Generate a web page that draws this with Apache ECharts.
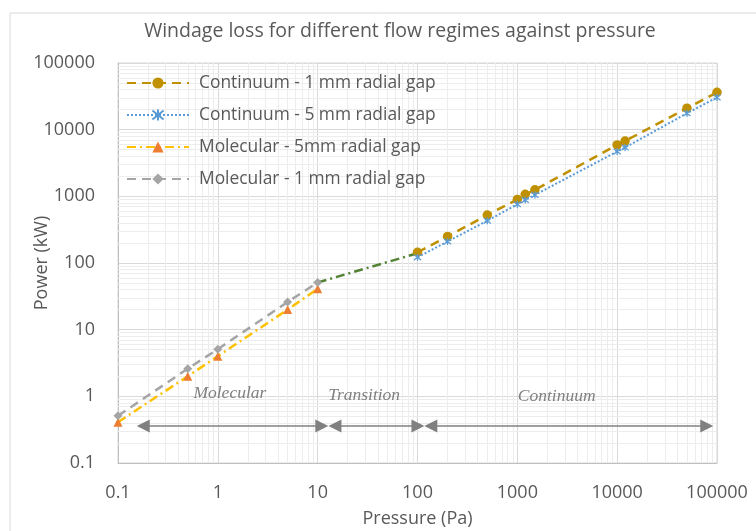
<!DOCTYPE html>
<html><head><meta charset="utf-8">
<script src="https://cdn.jsdelivr.net/npm/echarts@6/dist/echarts.min.js"></script>
<style>html,body{margin:0;padding:0;background:#fff}#c{width:756px;height:531px}</style>
</head><body><div id="c"></div>
<script>
// ---- data ----
const seriesNames = ['Continuum - 1 mm radial gap', 'Continuum - 5 mm radial gap', 'Molecular - 5mm radial gap', 'Molecular - 1 mm radial gap'];
const pressureContinuum = [100, 200, 500, 1000, 1200, 1500, 10000, 12000, 50000, 100000];
const continuum1mm = [145, 250, 525, 900, 1070, 1250, 5900, 6750, 21000, 36300];
const continuum5mm = [122, 210, 430, 760, 880, 1050, 4700, 5400, 17600, 30500];
const pressureMolecular = [0.1, 0.5, 1, 5, 10];
const molecular5mm = [0.41, 2.0, 4.0, 20, 41];
const molecular1mm = [0.51, 2.6, 5.1, 26, 51];
const pressureTransition = [10, 100];
const transitionPower = [51, 140];
const xTickLabels = ['0.1', '1', '10', '100', '1000', '10000', '100000'];
const yTickLabels = ['0.1', '1', '10', '100', '1000', '10000', '100000'];
// regime annotations (data coordinates)
const regimeNames = ['Molecular', 'Transition', 'Continuum'];
const regimeLabelAt = [[1.32, 1.12], [29.2, 1.05], [2480, 0.99]];
const regimeArrows = [[0.179, 11.0], [14.9, 101], [136, 78900]];
const arrowLevel = 0.36;

const pair = (xs, ys) => xs.map((x, i) => [x, ys[i]]);
const tickText = (arr) => (v) => arr[Math.round(Math.log10(v)) + 1] ?? String(v);

// minor gridline positions (2..9 per decade)
const minorVals = [];
for (let d = -1; d <= 4; d++) for (let m = 2; m <= 9; m++) minorVals.push(+(m * Math.pow(10, d)).toPrecision(3));

const FONT = 'Open Sans';
const chart = echarts.init(document.getElementById('c'), null, {renderer: 'canvas'});
chart.setOption({
  animation: false,
  backgroundColor: '#fff',
  textStyle: {fontFamily: FONT},
  graphic: [{type: 'rect', shape: {x: 10, y: 13, width: 800, height: 600}, style: {fill: 'none', stroke: '#d9d9d9', lineWidth: 1}, z: -10, silent: true}],
  title: {
    text: 'Windage loss for different flow regimes against pressure',
    left: 400, top: 21, textAlign: 'center', padding: 0,
    textStyle: {fontFamily: FONT, fontSize: 19.5, fontWeight: 'normal', color: '#595959'}
  },
  grid: {left: 118, right: 39, top: 63, bottom: 68, show: true, borderColor: '#d9d9d9', borderWidth: 1, outerBoundsMode: 'none', containLabel: false},
  legend: {
    data: seriesNames, orient: 'vertical', left: 126, top: 73, padding: 0,
    itemWidth: 62, itemHeight: 14, itemGap: 12,
    textStyle: {fontFamily: FONT, fontSize: 17.4, color: '#595959', lineHeight: 20, padding: [0, 0, 0, 5]}
  },
  xAxis: {
    type: 'log', logBase: 10, min: 0.1, max: 100000, splitNumber: 6,
    name: 'Pressure (Pa)', nameLocation: 'middle', nameGap: 47, nameMoveOverlap: false,
    nameTextStyle: {fontFamily: FONT, fontSize: 18, color: '#595959'},
    axisLine: {show: true, lineStyle: {color: '#bfbfbf'}},
    axisTick: {show: false},
    axisLabel: {margin: 21, fontFamily: FONT, fontSize: 18, color: '#595959', formatter: tickText(xTickLabels)},
    splitLine: {show: true, lineStyle: {color: '#d9d9d9', width: 1}}
  },
  yAxis: {
    type: 'log', logBase: 10, min: 0.1, max: 100000, splitNumber: 6,
    name: 'Power (kW)', nameLocation: 'middle', nameGap: 67, nameMoveOverlap: false,
    nameTextStyle: {fontFamily: FONT, fontSize: 18, color: '#595959'},
    axisLine: {show: true, lineStyle: {color: '#bfbfbf'}},
    axisTick: {show: false},
    axisLabel: {margin: 23, fontFamily: FONT, fontSize: 18, color: '#595959', formatter: tickText(yTickLabels)},
    splitLine: {show: true, lineStyle: {color: '#d9d9d9', width: 1}}
  },
  series: [
    {
      name: '_minorGrid', type: 'line', data: [], z: 1, silent: true,
      markLine: {
        z: 1, silent: true, symbol: 'none', animation: false, label: {show: false},
        lineStyle: {color: '#ededed', width: 1, type: 'solid'},
        emphasis: {disabled: true},
        data: minorVals.map(v => ({xAxis: v})).concat(minorVals.map(v => ({yAxis: v})))
      }
    },
    {
      name: seriesNames[0], type: 'line', data: pair(pressureContinuum, continuum1mm),
      symbol: 'circle', symbolSize: 9.5,
      lineStyle: {color: '#BF9000', width: 2.5, type: [9, 6]},
      itemStyle: {color: '#BF9000'}
    },
    {
      name: seriesNames[1], type: 'line', data: pair(pressureContinuum, continuum5mm),
      symbol: 'path://M0 0L8 8M8 0L0 8M4 -1L4 9', symbolSize: 7,
      lineStyle: {color: '#5B9BD5', width: 2, type: [2, 2]},
      itemStyle: {color: '#5B9BD5', borderColor: '#5B9BD5', borderWidth: 1.3}
    },
    {
      name: seriesNames[2], type: 'line', data: pair(pressureMolecular, molecular5mm),
      symbol: 'triangle', symbolSize: 9,
      lineStyle: {color: '#FFC000', width: 2.5, type: [9, 4, 2, 4]},
      itemStyle: {color: '#ED7D31'}
    },
    {
      name: seriesNames[3], type: 'line', data: pair(pressureMolecular, molecular1mm),
      symbol: 'diamond', symbolSize: 9,
      lineStyle: {color: '#A5A5A5', width: 2.5, type: [9, 6]},
      itemStyle: {color: '#A5A5A5'}
    },
    {
      name: '_transition', type: 'line', data: pair(pressureTransition, transitionPower),
      symbol: 'none', z: 3,
      lineStyle: {color: '#548235', width: 2.5, type: [9, 4, 2, 4]},
      markLine: {
        silent: true, symbol: ['triangle', 'triangle'], symbolSize: 13, animation: false,
        label: {show: false}, emphasis: {disabled: true},
        lineStyle: {color: '#808080', width: 1.5, type: 'solid'},
        data: regimeArrows.map(a => [{coord: [a[0], arrowLevel]}, {coord: [a[1], arrowLevel]}])
      },
      markPoint: {
        silent: true, symbol: 'circle', symbolSize: 0, animation: false,
        label: {show: true, position: 'inside', formatter: '{b}', fontFamily: 'Liberation Serif', fontStyle: 'italic', fontSize: 17.5, color: '#7f7f7f'},
        data: regimeNames.map((n, i) => ({name: n, coord: regimeLabelAt[i]}))
      }
    }
  ]
});
</script></body></html>
